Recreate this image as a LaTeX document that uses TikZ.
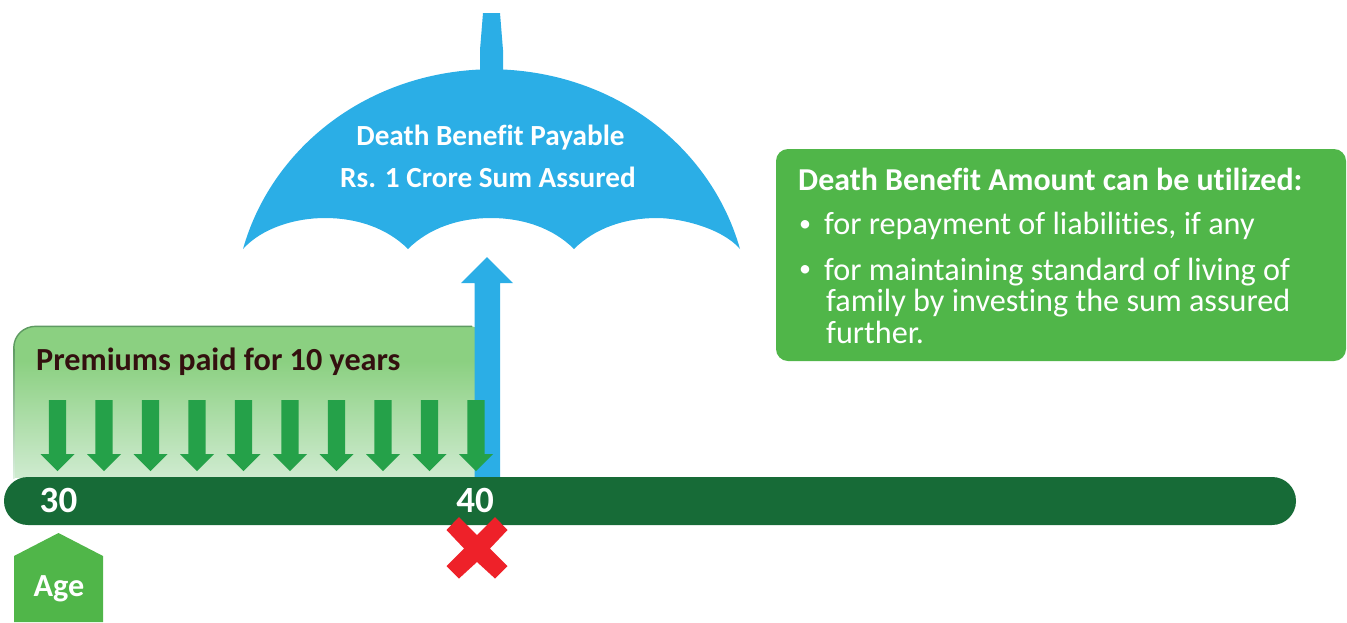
\documentclass[tikz,border=0pt]{standalone}
\usepackage{fontspec}
\setmainfont{Carlito}[Ligatures=CommonOff]
\definecolor{skyb}{HTML}{2BAEE6}
\definecolor{midg}{HTML}{50B649}
\definecolor{darkg}{HTML}{176B37}
\definecolor{arrg}{HTML}{25A149}
\definecolor{topg}{HTML}{8BD081}
\definecolor{botg}{HTML}{DCF0DF}
\definecolor{edgeg}{HTML}{5E9A62}
\definecolor{crossr}{HTML}{EE2129}
\definecolor{premt}{HTML}{33100F}
\pgfdeclareverticalshading{premshade}{100bp}{color(0bp)=(botg); color(25bp)=(botg); color(65bp)=(topg); color(100bp)=(topg)}
\tikzset{
  x=1pt,y=-1pt,
  lbl/.style={inner sep=0pt,font=\bfseries\fontsize{32.2}{36}\selectfont},
  wlbl/.style={lbl,text=white},
  umblbl/.style={inner sep=0pt,anchor=base,text=white,font=\bfseries\fontsize{29.2}{33}\selectfont},
  numlbl/.style={wlbl,anchor=base,font=\bfseries\fontsize{37}{41}\selectfont},
  headlbl/.style={inner sep=0pt,anchor=base west,text=white,font=\bfseries\fontsize{31.9}{36}\selectfont},
  body/.style={inner sep=0pt,anchor=base west,text=white,font=\fontsize{32.2}{36}\selectfont},
  bul/.style={inner sep=0pt,anchor=center,text=white,font=\fontsize{24}{28}\selectfont},
  premarrow/.style={fill=arrg,draw=none},
}
\newcommand{\premarr}[1]{%
  \fill[premarrow] (#1-8.6,400) -- (#1+8.6,400) -- (#1+8.6,454) -- (#1+17,454) -- (#1,471) -- (#1-17,454) -- (#1-8.6,454) -- cycle;}
\begin{document}
\begin{tikzpicture}
\useasboundingbox (0,0) rectangle (1347,622);
% premium panel
\shade[shading=premshade,rounded corners=22pt] (13.5,500) -- (13.5,326) -- (490,326) -- (490,500) -- cycle;
\fill[white] (0,478) rectangle (600,510);
\shade[top color=edgeg,bottom color=botg] (13,348) rectangle (14.6,478);
\draw[edgeg,line width=1.4pt] (13.8,348) .. controls (13.8,335) and (24,326.3) .. (36,326.3) -- (472,326.3);
% umbrella
\fill[skyb] (480,69.5) -- (480,50) -- (483,13) -- (500,13) -- (503,50) -- (503,69.5)
  .. controls (620,75) and (712,150) .. (740,249)
  .. controls (722,228) and (680,218) .. (657,218)
  .. controls (625,218) and (595,228) .. (574,249)
  .. controls (553,228) and (523,218) .. (491,218)
  .. controls (459,218) and (429,228) .. (408,249)
  .. controls (387,228) and (357,218) .. (325,218)
  .. controls (295,218) and (262,228) .. (243,249)
  .. controls (271,150) and (363,75) .. (480,69.5) -- cycle;
% up arrow
\fill[skyb] (474.5,480) -- (474.5,283) -- (461,283) -- (487,257) -- (513,283) -- (500,283) -- (500,480) -- cycle;
% arrows
\foreach \xx in {57.5,104,150.5,197,243.5,290,336.5,383,429.5,476}{\premarr{\xx}}
% bar
\fill[darkg,rounded corners=23.9pt] (4,477) rectangle (1296,525);
% cross
\fill[crossr] (459,517) -- (477,535) -- (495,517) -- (507.5,530) -- (490,548.5) -- (507.5,566) -- (495,578.5) -- (477,562) -- (459,578.5) -- (446.5,566) -- (464,548.5) -- (446.5,530) -- cycle;
% age
\fill[midg] (14,622) -- (14,556) -- (58.5,533) -- (103,556) -- (103,622) -- cycle;
% green box
\fill[midg,rounded corners=12pt] (776,149) rectangle (1346,361);
\node[umblbl] (a) at (490.5,145) {Death Benefit Payable};
\node[umblbl] (b) at (488,187) {Rs. 1 Crore Sum Assured};
\node[lbl,text=premt,anchor=base west] (c) at (36,370) {Premiums paid for 10 years};
\node[numlbl] (d) at (58.5,512) {30};
\node[numlbl] (e) at (475,512) {40};
\node[wlbl,anchor=base] (f) at (59,596) {Age};
\node[headlbl] (g) at (798,190) {Death Benefit Amount can be utilized:};
\node[bul] (h) at (805,226) {•};
\node[body] (i) at (824,234) {for repayment of liabilities, if any};
\node[bul] (j) at (805,271) {•};
\node[body] (k) at (824,280) {for maintaining standard of living of};
\node[body] (l) at (826,311) {family by investing the sum assured};
\node[body] (m) at (826,343) {further.};
\end{tikzpicture}
\end{document}
